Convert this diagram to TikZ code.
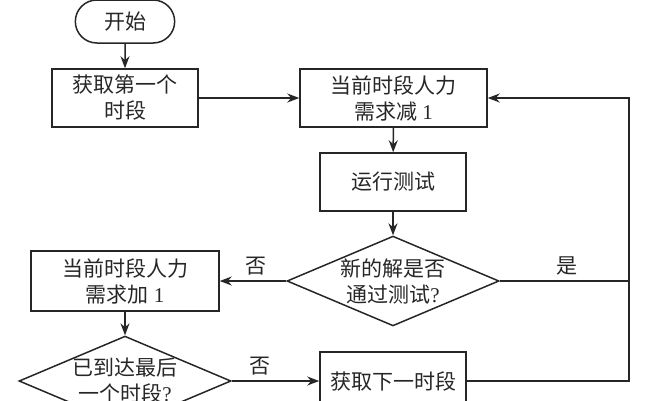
\documentclass[tikz,border=0pt]{standalone}
\usepackage{fontspec}
\setmainfont{Liberation Serif}
\newfontfamily\cjk{Noto Sans CJK SC}
\usetikzlibrary{arrows.meta,shapes.geometric,shapes.misc}
\tikzset{
  every node/.style={font=\fontsize{21pt}{26pt}\selectfont, text=black!85},
  box/.style={draw=black!85, line width=1.5pt, minimum width=#1, align=center, inner sep=0pt},
  box/.default=146pt,
  pill/.style={draw=black!85, line width=1.5pt, rounded rectangle, minimum width=106pt, minimum height=43pt},
  dia/.style={draw=black!85, line width=1.5pt, diamond, aspect=2.36, minimum width=208pt, minimum height=88pt, inner sep=0pt, align=center},
  conn/.style={line width=1.5pt, draw=black!85},
  arr/.style={conn, -{Stealth[length=12pt,width=9pt]}},
  lbl/.style={font=\fontsize{21pt}{22pt}\selectfont\cjk}
}
\begin{document}
\begin{tikzpicture}[x=1pt,y=-1pt]
\useasboundingbox (0,0) rectangle (650,400);
\clip (0,0) rectangle (650,400);
\node[pill] (start) at (125,21.5) {\cjk 开始};
\node[box, minimum height=58pt] (b1) at (125,98) {{\cjk 获取第一个}\\{\cjk 时段}};
\node[box=187pt, minimum height=58pt] (b2) at (393.5,98) {{\cjk 当前时段人力}\\{\cjk 需求减} 1};
\node[box, minimum height=58pt] (b3) at (393,182) {\cjk 运行测试};
\node[dia] (d1) at (393,281) {{\cjk 新的解是否}\\{\cjk 通过测试}?};
\node[box=188pt, minimum height=60pt] (b4) at (125,281) {{\cjk 当前时段人力}\\{\cjk 需求加} 1};
\node[dia] (d2) at (125,381) {{\cjk 已到达最后}\\{\cjk 一个时段}?};
\node[box, minimum height=58pt] (b5) at (393,381) {\cjk 获取下一时段};
\coordinate (rc) at (629,281);
\draw[arr] (start) -- (b1);
\draw[arr] (b1) -- (b2);
\draw[arr] (b2) -- (b3);
\draw[arr] (b3) -- (d1);
\draw[arr] (d1.west) -- node[lbl, above=2pt, pos=0.45] {否} (b4.east);
\draw[conn] (d1.east) -- node[lbl, above=2pt, pos=0.52] {是} (rc);
\draw[arr] (b4) -- (d2);
\draw[arr] (d2.east) -- node[lbl, above=2pt, pos=0.32] {否} (b5.west);
\draw[arr] (b5.east) -| (rc) |- (b2.east);
\end{tikzpicture}
\end{document}
